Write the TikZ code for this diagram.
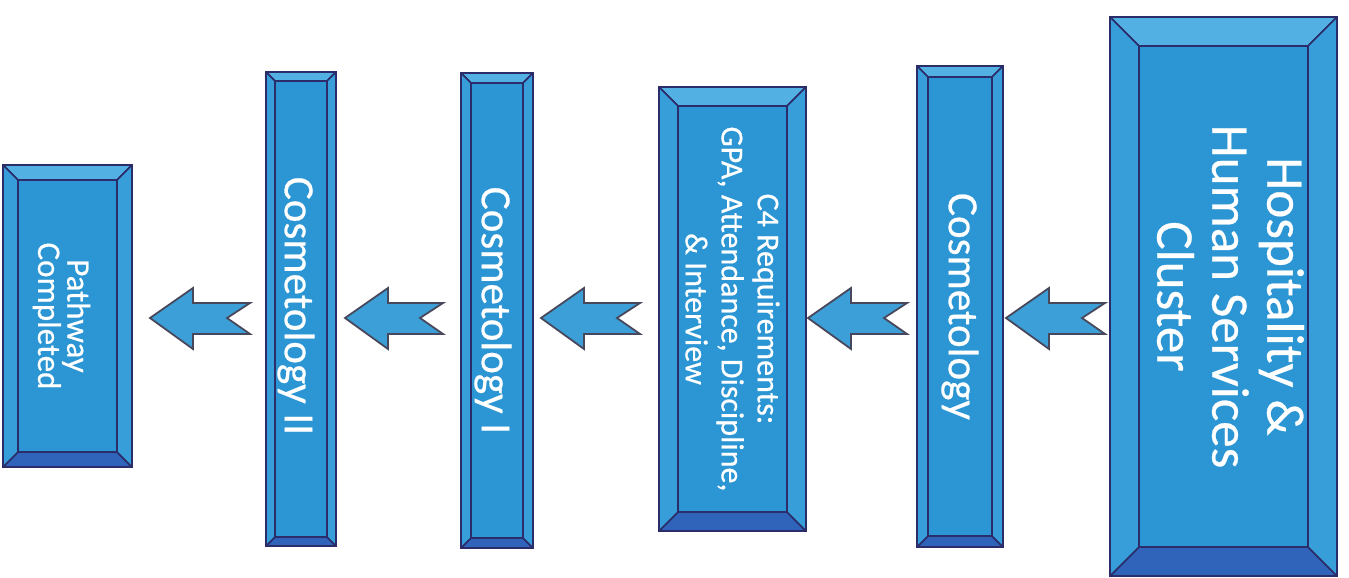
\documentclass[tikz,border=0pt]{standalone}
\usepackage{fontspec}
\setmainfont{Carlito}[FakeBold=0.5]
\usetikzlibrary{calc}
\definecolor{face}{HTML}{2C96D4}
\definecolor{bevtop}{HTML}{52B0E3}
\definecolor{bevside}{HTML}{379EDA}
\definecolor{bevbot}{HTML}{3064BA}
\definecolor{edge}{HTML}{2B2D6B}
\definecolor{arrfill}{HTML}{3C9FD7}
\definecolor{arredge}{HTML}{48485C}
\tikzset{
 box/.style={rectangle, draw=edge, line width=1.6pt, fill=face, inner sep=0pt, outer sep=0pt},
 lbl/.style={rotate=-90, text=white, align=center, inner sep=0pt},
 bev/.style={draw=edge, line width=1.6pt, line join=round},
 blk/.style={fill=arrfill, draw=arredge, line width=1.8pt, line join=miter}
}
\newcommand\bevelit[2]{%
 \path[bev, fill=bevtop] (#1.north west) -- (#1.north east) -- ([shift={(-#2pt,-#2pt)}]#1.north east) -- ([shift={(#2pt,-#2pt)}]#1.north west) -- cycle;
 \path[bev, fill=bevbot] (#1.south west) -- (#1.south east) -- ([shift={(-#2pt,#2pt)}]#1.south east) -- ([shift={(#2pt,#2pt)}]#1.south west) -- cycle;
 \path[bev, fill=bevside] (#1.north west) -- ([shift={(#2pt,-#2pt)}]#1.north west) -- ([shift={(#2pt,#2pt)}]#1.south west) -- (#1.south west) -- cycle;
 \path[bev, fill=bevside] (#1.north east) -- ([shift={(-#2pt,-#2pt)}]#1.north east) -- ([shift={(-#2pt,#2pt)}]#1.south east) -- (#1.south east) -- cycle;
}
\newcommand\flowarrow[4]{%
 \path[blk] let \p1=(#2.east), \p2=(#1.west) in
  (\x1+#3pt,-318pt) -- (\x1+#3pt+43pt,-288pt) -- (\x1+#3pt+43pt,-303pt) -- (\x2-#4pt,-303pt) -- (\x2-#4pt-23pt,-318pt) -- (\x2-#4pt,-334pt) -- (\x1+#3pt+43pt,-334pt) -- (\x1+#3pt+43pt,-349pt) -- cycle;
}
\begin{document}
\begin{tikzpicture}[x=1pt,y=-1pt]
\fill[white] (0,0) rectangle (1349,578);
\useasboundingbox (0,0) rectangle (1349,578);
% boxes
\node[box, minimum width=227pt, minimum height=559pt] (hosp) at (1223.5,296.5) {};
\node[box, minimum width=86pt, minimum height=481pt] (cosm) at (960,306.5) {};
\node[box, minimum width=147pt, minimum height=444pt] (c4) at (732.5,309) {};
\node[box, minimum width=72pt, minimum height=475pt] (cosm1) at (497,310.5) {};
\node[box, minimum width=70pt, minimum height=474pt] (cosm2) at (301,309) {};
\node[box, minimum width=129pt, minimum height=302pt] (path) at (67.5,316) {};
\bevelit{hosp}{29}
\bevelit{cosm}{11}
\bevelit{c4}{19}
\bevelit{cosm1}{10}
\bevelit{cosm2}{9}
\bevelit{path}{15}
% labels
\node[lbl, font=\fontsize{53}{55}\selectfont] (hosp-t) at ($(hosp.center)+(7,0)$) {Hospitality \&\\Human Services\\Cluster};
\node[lbl, font=\fontsize{43}{48}\selectfont] (cosm-t) at (cosm.center) {Cosmetology};
\node[lbl, font=\fontsize{32}{36}\selectfont] (c4-t) at (c4.center) {C4 Requirements:\\GPA, Attendance, Discipline,\\\& Interview};
\node[lbl, font=\fontsize{43}{48}\selectfont] (cosm1-t) at ($(cosm1.center)+(-4,0)$) {Cosmetology I};
\node[lbl, font=\fontsize{43}{48}\selectfont] (cosm2-t) at ($(cosm2.center)+(-5,-3)$) {Cosmetology II};
\node[lbl, font=\fontsize{33}{27}\selectfont] (path-t) at ($(path.center)+(-6,0)$) {Pathway\\Completed};
% arrows
\flowarrow{hosp}{cosm}{3}{5}
\flowarrow{cosm}{c4}{2}{10}
\flowarrow{c4}{cosm1}{8}{19}
\flowarrow{cosm1}{cosm2}{9}{18}
\flowarrow{cosm2}{path}{18}{16}
\end{tikzpicture}
\end{document}
